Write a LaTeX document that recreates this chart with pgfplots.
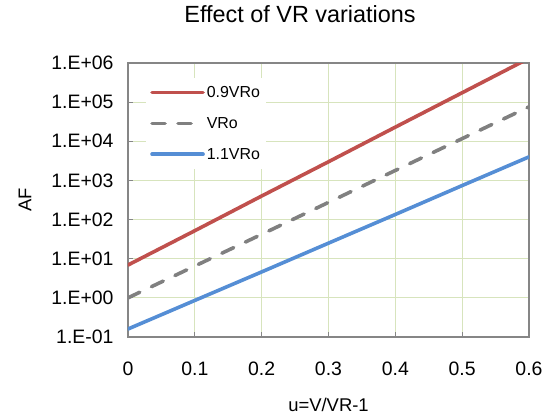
\documentclass[border=0pt]{standalone}
\usepackage{fontspec}
\setmainfont{Liberation Sans}
\usepackage{pgfplots}
\pgfplotsset{compat=1.18}
\definecolor{cred}{RGB}{192,80,77}
\definecolor{cgray}{RGB}{128,128,128}
\definecolor{cblue}{RGB}{85,142,213}
\definecolor{cgrid}{RGB}{215,228,189}
\definecolor{caxis}{RGB}{134,134,134}
\begin{document}
\begin{tikzpicture}
\path[use as bounding box] (-128bp,-80bp) rectangle (415bp,337bp);
\begin{axis}[
  scale only axis, width=401bp, height=274bp,
  at={(0,0)}, anchor=south west,
  ymode=log, log basis y=10,
  xmin=0, xmax=0.6, ymin=1e-1, ymax=1e6,
  xtick={0,0.1,0.2,0.3,0.4,0.5,0.6},
  xticklabels={0,0.1,0.2,0.3,0.4,0.5,0.6},
  ytick={1e-1,1,1e1,1e2,1e3,1e4,1e5,1e6},
  yticklabels={1.E-01,1.E+00,1.E+01,1.E+02,1.E+03,1.E+04,1.E+05,1.E+06},
  tick align=inside,
  major tick length=5bp, minor tick length=4bp,
  every tick/.style={caxis, line width=0.8bp},
  xtick pos=bottom, ytick pos=left,
  grid=major,
  major grid style={cgrid, line width=1.2bp},
  minor grid style={draw=none},
  axis line style={caxis, line width=1.5bp},
  ticklabel style={font=\fontsize{19.5}{22}\selectfont, black},
  xticklabel style={yshift=-21bp},
  yticklabel style={xshift=-11bp},
  xlabel={u=V/VR-1}, ylabel={AF},
  label style={font=\fontsize{18.5}{22}\selectfont},
  xlabel style={at={(axis description cs:0.5,0)}, anchor=center, yshift=-68bp},
  ylabel style={at={(axis description cs:-0.257,0.5)}, anchor=center},
  title={Effect of VR variations},
  title style={font=\fontsize{23.5}{28}\selectfont, at={(axis description cs:0.429,1)}, anchor=center, yshift=43bp},
  legend style={at={(axis description cs:0.045,0.946)}, anchor=north west, draw=none, fill=white,
    font=\fontsize{16}{19}\selectfont, row sep=14.5bp, inner xsep=4bp, inner ysep=6bp,
    /tikz/every even column/.append style={column sep=3bp}},
  legend cell align=left,
  legend image code/.code={\draw[#1] (0bp,0bp) -- (51bp,0bp);},
]
\addplot[cred, line width=3.6bp, line cap=round] coordinates {
  (0,6.9) (0.1,52) (0.2,400) (0.3,3000) (0.4,23000) (0.5,174000) (0.6,1320000)};
\addlegendentry{0.9VRo}
\addplot[cgray, line width=3.6bp, line cap=round, dash pattern=on 13bp off 13bp] coordinates {
  (0,1) (0.1,6.5) (0.2,42) (0.3,275) (0.4,1800) (0.5,11700) (0.6,76000)};
\addlegendentry{VRo}
\addplot[cblue, line width=3.6bp, line cap=round] coordinates {
  (0,0.16) (0.1,0.86) (0.2,4.6) (0.3,25) (0.4,135) (0.5,740) (0.6,4000)};
\addlegendentry{1.1VRo}
\end{axis}
\end{tikzpicture}
\end{document}
